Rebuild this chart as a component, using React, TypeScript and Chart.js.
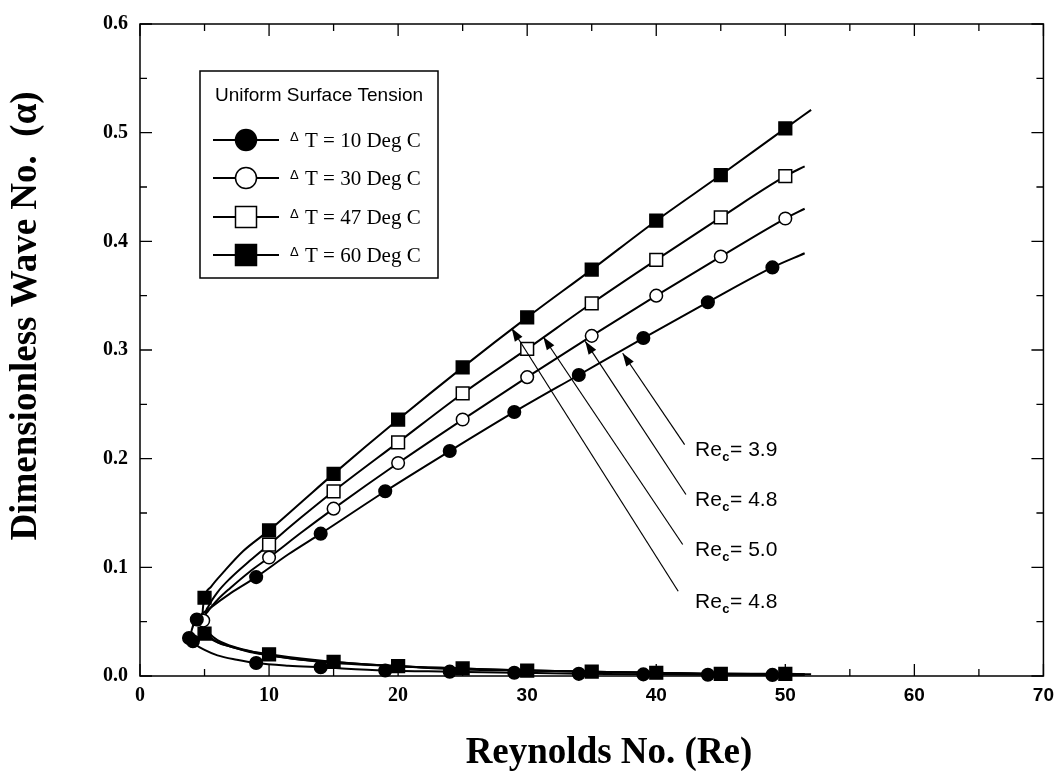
import { useEffect, useRef } from 'react';
import { Chart, registerables } from 'chart.js';

Chart.register(...registerables);

// ---------------- DATA ----------------
const xTickValues = [0, 10, 20, 30, 40, 50, 60, 70];
const yTickValues = [0, 0.1, 0.2, 0.3, 0.4, 0.5, 0.6];

const deltaT = [10, 30, 47, 60];
const legendTitle = 'Uniform Surface Tension';

// ΔT = 10 Deg C (filled circle), Re_c = 3.9
const t10UpperRe = [3.9, 4.0, 4.4, 5.5, 7, 9, 11.5, 14, 19, 24, 29, 34, 39, 44, 49, 51.5];
const t10UpperAlpha = [0.034, 0.042, 0.052, 0.063, 0.076, 0.091, 0.112, 0.131, 0.170, 0.207, 0.243, 0.277, 0.311, 0.344, 0.376, 0.389];
const t10LowerRe = [3.9, 4.3, 5, 6, 7.5, 9, 11.5, 14, 19, 24, 29, 34, 39, 44, 49, 51.5];
const t10LowerAlpha = [0.034, 0.029, 0.024, 0.019, 0.015, 0.012, 0.0095, 0.008, 0.005, 0.004, 0.003, 0.002, 0.0015, 0.0012, 0.001, 0.001];
const t10MarkRe = [4.4, 9, 14, 19, 24, 29, 34, 39, 44, 49, 3.8, 4.1, 9, 14, 19, 24, 29, 34, 39, 44, 49];
const t10MarkAlpha = [0.052, 0.091, 0.131, 0.170, 0.207, 0.243, 0.277, 0.311, 0.344, 0.376, 0.035, 0.032, 0.012, 0.008, 0.005, 0.004, 0.003, 0.002, 0.0015, 0.0012, 0.001];

// ΔT = 30 Deg C (open circle), Re_c = 4.8
const t30UpperRe = [4.8, 4.9, 5.3, 6, 7, 8.5, 10, 12.5, 15, 20, 25, 30, 35, 40, 45, 50, 51.5];
const t30UpperAlpha = [0.042, 0.051, 0.060, 0.070, 0.081, 0.096, 0.109, 0.132, 0.154, 0.196, 0.236, 0.275, 0.313, 0.350, 0.386, 0.421, 0.430];
const t30LowerRe = [4.8, 5.3, 6, 7, 8.5, 10, 12.5, 15, 20, 25, 30, 35, 40, 45, 50, 51.5];
const t30LowerAlpha = [0.042, 0.037, 0.031, 0.027, 0.022, 0.019, 0.015, 0.012, 0.009, 0.006, 0.005, 0.004, 0.003, 0.002, 0.0018, 0.0015];
const t30MarkRe = [4.9, 10, 15, 20, 25, 30, 35, 40, 45, 50];
const t30MarkAlpha = [0.051, 0.109, 0.154, 0.196, 0.236, 0.275, 0.313, 0.350, 0.386, 0.421];

// ΔT = 47 Deg C (open square), Re_c = 5.0
const t47UpperRe = [5.0, 5.05, 5.3, 6, 7, 8.5, 10, 12.5, 15, 20, 25, 30, 35, 40, 45, 50, 51.5];
const t47UpperAlpha = [0.045, 0.055, 0.064, 0.077, 0.090, 0.106, 0.121, 0.146, 0.170, 0.215, 0.260, 0.301, 0.343, 0.383, 0.422, 0.460, 0.469];
const t47LowerRe = [5.0, 5.3, 6, 7, 8.5, 10, 12.5, 15, 20, 25, 30, 35, 40, 45, 50, 51.5];
const t47LowerAlpha = [0.045, 0.040, 0.033, 0.028, 0.023, 0.019, 0.015, 0.013, 0.009, 0.007, 0.005, 0.004, 0.003, 0.002, 0.0018, 0.0015];
const t47MarkRe = [10, 15, 20, 25, 30, 35, 40, 45, 50];
const t47MarkAlpha = [0.121, 0.170, 0.215, 0.260, 0.301, 0.343, 0.383, 0.422, 0.460];

// ΔT = 60 Deg C (filled square), Re_c = 4.8
const t60UpperRe = [4.8, 4.85, 5.0, 5.5, 6.5, 8, 10, 12.5, 15, 20, 25, 30, 35, 40, 45, 50, 52];
const t60UpperAlpha = [0.042, 0.058, 0.072, 0.082, 0.096, 0.115, 0.134, 0.160, 0.186, 0.236, 0.284, 0.330, 0.374, 0.419, 0.461, 0.504, 0.521];
const t60LowerRe = [4.8, 5, 5.5, 6.5, 8, 10, 12.5, 15, 20, 25, 30, 35, 40, 45, 50, 52];
const t60LowerAlpha = [0.042, 0.039, 0.034, 0.029, 0.024, 0.020, 0.016, 0.013, 0.009, 0.007, 0.005, 0.004, 0.003, 0.002, 0.002, 0.0015];
const t60MarkRe = [5, 10, 15, 20, 25, 30, 35, 40, 45, 50, 5, 10, 15, 20, 25, 30, 35, 40, 45, 50];
const t60MarkAlpha = [0.072, 0.134, 0.186, 0.236, 0.284, 0.330, 0.374, 0.419, 0.461, 0.504, 0.039, 0.020, 0.013, 0.009, 0.007, 0.005, 0.004, 0.003, 0.002, 0.002];

// Re_c annotations (arrow tips on curves, tails near labels)
const recValues = ['3.9', '4.8', '5.0', '4.8'];
const arrowTipRe = [37.4, 34.5, 31.25, 28.8];
const arrowTipAlpha = [0.297, 0.308, 0.312, 0.320];
const arrowTailRe = [42.2, 42.3, 42.05, 41.7];
const arrowTailAlpha = [0.213, 0.167, 0.121, 0.078];
const recLabelRe = [43.0, 43.0, 43.0, 43.0];
const recLabelAlpha = [0.208, 0.162, 0.116, 0.068];

const xTitle = 'Reynolds No. (Re)';
const yTitle = 'Dimensionless Wave No.  (α)';

// ---------------- HELPERS ----------------
const pts = (xs: number[], ys: number[]) => xs.map((x, i) => ({ x, y: ys[i] }));

const SERIF = '"Liberation Serif", "Times New Roman", serif';
const SANS = '"Liberation Sans", Arial, sans-serif';

type Kind = 'fc' | 'oc' | 'os' | 'fs';
const kinds: Kind[] = ['fc', 'oc', 'os', 'fs'];

function lineDs(data: { x: number; y: number }[]) {
  return {
    type: 'scatter' as const,
    data,
    showLine: true,
    borderColor: '#000',
    borderWidth: 2,
    pointRadius: 0,
    cubicInterpolationMode: 'monotone' as const,
    fill: false,
    order: 10,
  };
}

function markDs(data: { x: number; y: number }[], kind: Kind) {
  const circle = kind === 'fc' || kind === 'oc';
  const filled = kind === 'fc' || kind === 'fs';
  return {
    type: 'scatter' as const,
    data,
    showLine: false,
    pointStyle: circle ? 'circle' : 'rect',
    pointRadius: circle ? 6.3 : 9,
    backgroundColor: filled ? '#000' : '#fff',
    borderColor: '#000',
    borderWidth: 1.5,
    clip: false as const,
    order: filled ? 1 : 2,
  };
}

function drawLegendMarker(ctx: CanvasRenderingContext2D, kind: Kind, x: number, y: number) {
  ctx.beginPath();
  if (kind === 'fc' || kind === 'oc') {
    ctx.arc(x, y, 10.5, 0, Math.PI * 2);
  } else {
    ctx.rect(x - 10.5, y - 10.5, 21, 21);
  }
  ctx.fillStyle = kind === 'fc' || kind === 'fs' ? '#000' : '#fff';
  ctx.fill();
  ctx.lineWidth = 1.5;
  ctx.strokeStyle = '#000';
  ctx.stroke();
}

const decorPlugin = {
  id: 'decor',
  afterDatasetsDraw(chart: any) {
    const { ctx, chartArea: a } = chart;
    const xs = chart.scales.x;
    const ys = chart.scales.y;
    ctx.save();

    // frame
    ctx.strokeStyle = '#000';
    ctx.lineWidth = 1.5;
    ctx.strokeRect(a.left, a.top, a.right - a.left, a.bottom - a.top);

    // inward ticks on all four sides
    ctx.lineWidth = 1.3;
    ctx.beginPath();
    for (let i = 0; i <= 14; i++) {
      const px = xs.getPixelForValue(i * 5);
      const len = i % 2 === 0 ? 12 : 7;
      ctx.moveTo(px, a.bottom);
      ctx.lineTo(px, a.bottom - len);
      ctx.moveTo(px, a.top);
      ctx.lineTo(px, a.top + len);
    }
    for (let i = 0; i <= 12; i++) {
      const py = ys.getPixelForValue(i * 0.05);
      const len = i % 2 === 0 ? 12 : 7;
      ctx.moveTo(a.left, py);
      ctx.lineTo(a.left + len, py);
      ctx.moveTo(a.right, py);
      ctx.lineTo(a.right - len, py);
    }
    ctx.stroke();

    // Re_c annotations
    ctx.lineWidth = 1.2;
    for (let i = 0; i < recValues.length; i++) {
      const tx = xs.getPixelForValue(arrowTipRe[i]);
      const ty = ys.getPixelForValue(arrowTipAlpha[i]);
      const sx = xs.getPixelForValue(arrowTailRe[i]);
      const sy = ys.getPixelForValue(arrowTailAlpha[i]);
      const ang = Math.atan2(ty - sy, tx - sx);
      ctx.beginPath();
      ctx.moveTo(sx, sy);
      ctx.lineTo(tx, ty);
      ctx.stroke();
      const hl = 13;
      const hw = 4.5;
      const bx = tx - hl * Math.cos(ang);
      const by = ty - hl * Math.sin(ang);
      ctx.beginPath();
      ctx.moveTo(tx, ty);
      ctx.lineTo(bx + hw * Math.sin(ang), by - hw * Math.cos(ang));
      ctx.lineTo(bx - hw * Math.sin(ang), by + hw * Math.cos(ang));
      ctx.closePath();
      ctx.fillStyle = '#000';
      ctx.fill();

      const lx = xs.getPixelForValue(recLabelRe[i]);
      const ly = ys.getPixelForValue(recLabelAlpha[i]);
      ctx.textBaseline = 'middle';
      ctx.textAlign = 'left';
      ctx.font = `21px ${SANS}`;
      ctx.fillText('Re', lx, ly);
      let w = ctx.measureText('Re').width;
      ctx.font = `bold 13px ${SANS}`;
      ctx.fillText('c', lx + w + 0.5, ly + 7);
      w += ctx.measureText('c').width + 1;
      ctx.font = `21px ${SANS}`;
      ctx.fillText('= ' + recValues[i], lx + w, ly);
    }

    // legend box
    const L = 200, T = 71, R = 438, B = 278;
    ctx.fillStyle = '#fff';
    ctx.fillRect(L, T, R - L, B - T);
    ctx.lineWidth = 1.5;
    ctx.strokeStyle = '#000';
    ctx.strokeRect(L, T, R - L, B - T);
    ctx.fillStyle = '#000';
    ctx.font = `19px ${SANS}`;
    ctx.textAlign = 'center';
    ctx.textBaseline = 'middle';
    ctx.fillText(legendTitle, (L + R) / 2, 96);
    const rowY = [140, 178, 217, 255];
    for (let i = 0; i < deltaT.length; i++) {
      const y = rowY[i];
      ctx.beginPath();
      ctx.lineWidth = 2;
      ctx.moveTo(213, y);
      ctx.lineTo(279, y);
      ctx.stroke();
      drawLegendMarker(ctx, kinds[i], 246, y);
      ctx.fillStyle = '#000';
      ctx.textAlign = 'left';
      ctx.textBaseline = 'alphabetic';
      ctx.font = `13px ${SANS}`;
      ctx.fillText('Δ', 290, y + 1);
      ctx.font = `21px ${SERIF}`;
      ctx.fillText(`T = ${deltaT[i]} Deg C`, 305, y + 7);
    }

    // axis titles
    ctx.fillStyle = '#000';
    ctx.font = `bold 37px ${SERIF}`;
    ctx.textAlign = 'center';
    ctx.textBaseline = 'alphabetic';
    ctx.fillText(xTitle, 609, 763);
    ctx.save();
    ctx.translate(36, 316);
    ctx.rotate(-Math.PI / 2);
    ctx.fillText(yTitle, 0, 0);
    ctx.restore();

    ctx.restore();
  },
};

export default function App() {
  const ref = useRef<HTMLCanvasElement | null>(null);

  useEffect(() => {
    if (!ref.current) return;
    const chart = new Chart(ref.current, {
      type: 'scatter',
      data: {
        datasets: [
          lineDs(pts(t10UpperRe, t10UpperAlpha)),
          lineDs(pts(t10LowerRe, t10LowerAlpha)),
          lineDs(pts(t30UpperRe, t30UpperAlpha)),
          lineDs(pts(t30LowerRe, t30LowerAlpha)),
          lineDs(pts(t47UpperRe, t47UpperAlpha)),
          lineDs(pts(t47LowerRe, t47LowerAlpha)),
          lineDs(pts(t60UpperRe, t60UpperAlpha)),
          lineDs(pts(t60LowerRe, t60LowerAlpha)),
          markDs(pts(t30MarkRe, t30MarkAlpha), 'oc'),
          markDs(pts(t47MarkRe, t47MarkAlpha), 'os'),
          markDs(pts(t10MarkRe, t10MarkAlpha), 'fc'),
          markDs(pts(t60MarkRe, t60MarkAlpha), 'fs'),
        ] as any,
      },
      options: {
        responsive: false,
        animation: false,
        events: [],
        layout: { padding: { left: 0, right: 14, top: 18, bottom: 0 } },
        plugins: { legend: { display: false }, tooltip: { enabled: false } },
        scales: {
          x: {
            type: 'linear',
            min: 0,
            max: 70,
            afterFit: (s: any) => { s.height = 95; },
            afterBuildTicks: (s: any) => { s.ticks = xTickValues.map((v) => ({ value: v })); },
            grid: { display: false, drawTicks: false },
            border: { display: false },
            ticks: {
              padding: 8,
              color: '#000',
              maxRotation: 0,
              font: (c: any) =>
                c.tick && c.tick.value >= 30
                  ? { family: SANS, size: 19, weight: 'bold' }
                  : { family: SERIF, size: 20, weight: 'bold' },
              callback: (v: any) => String(v),
            },
          },
          y: {
            type: 'linear',
            min: 0,
            max: 0.6,
            afterFit: (s: any) => { s.width = 140; },
            afterBuildTicks: (s: any) => { s.ticks = yTickValues.map((v) => ({ value: v })); },
            grid: { display: false, drawTicks: false },
            border: { display: false },
            ticks: {
              padding: 12,
              color: '#000',
              font: { family: SERIF, size: 20, weight: 'bold' },
              callback: (v: any) => Number(v).toFixed(1),
            },
          },
        },
      } as any,
      plugins: [decorPlugin],
    });
    return () => chart.destroy();
  }, []);

  return (
    <div style={{ position: 'fixed', left: 0, top: 0, width: 1062, height: 771, background: '#fff' }}>
      <canvas ref={ref} width={1062} height={771} style={{ width: 1062, height: 771 }} />
    </div>
  );
}
